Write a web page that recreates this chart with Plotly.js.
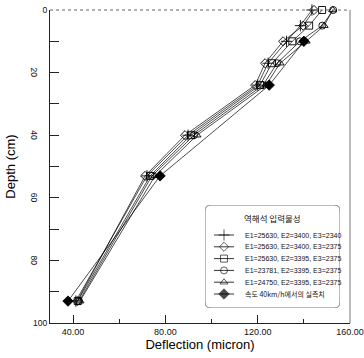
<!DOCTYPE html>
<html>
<head>
<meta charset="utf-8">
<script src="https://cdn.plot.ly/plotly-3.0.1.min.js"></script>
<style>html,body{margin:0;padding:0;background:#fff;}#chart{width:364px;height:358px;}</style>
</head>
<body>
<div id="chart"></div>
<script>
// ---- data ----
var depthCalc = [0, 5, 10, 17, 24, 40, 53, 93];
var defl1 = [143.5, 138.5, 132.5, 124.5, 120.0, 89.8, 72.0, 41.2];   // E1=25630, E2=3400, E3=2340
var defl2 = [144.4, 139.7, 131.0, 123.2, 118.9, 88.5, 71.2, 41.8];   // E1=25630, E2=3400, E3=2375
var defl3 = [147.9, 142.3, 135.0, 126.2, 121.0, 91.1, 73.4, 42.0];   // E1=25630, E2=3395, E3=2375
var defl4 = [152.7, 148.0, 138.3, 128.4, 122.3, 92.4, 74.2, 42.6];   // E1=23781, E2=3395, E3=2375
var defl5 = [152.5, 148.8, 141.0, 129.7, 123.6, 93.7, 75.5, 43.0];   // E1=24750, E2=3395, E3=2375
var depthMeas = [10, 24, 53, 93];
var deflMeas = [140.0, 125.0, 77.7, 37.8];

var seriesNames = [
  "E1=25630, E2=3400, E3=2340",
  "E1=25630, E2=3400, E3=2375",
  "E1=25630, E2=3395, E3=2375",
  "E1=23781, E2=3395, E3=2375",
  "E1=24750, E2=3395, E3=2375",
  "속도 40km/h에서의 실측치"
];
var legendTitle = "역해석 입력물성";
var xTickVals = [40, 80, 120, 160];
var xTickText = ["40.00", "80.00", "120.00", "160.00"];
var yTickVals = [0, 10, 20, 30, 40, 50, 60, 70, 80, 90, 100];
var yFlatLabels = {0: "0", 100: "100"};
var yRotLabels = [20, 40, 60, 80];

// ---- styles ----
var symbols = ["cross-thin-open", "diamond-open", "square-open", "circle-open", "triangle-up-open", "diamond"];
var sizes = [8, 7, 7, 7, 7, 8];
var FONT = "Liberation Sans, Arial, sans-serif";
var NARROW = "Liberation Sans Narrow, Arial Narrow, Liberation Sans, Arial, sans-serif";

var xs = [defl1, defl2, defl3, defl4, defl5, deflMeas];
var ys = [depthCalc, depthCalc, depthCalc, depthCalc, depthCalc, depthMeas];

var traces = [];
for (var i = 0; i < xs.length; i++) {
  traces.push({
    x: xs[i], y: ys[i], type: "scatter", mode: "lines+markers", name: seriesNames[i],
    showlegend: false, cliponaxis: false,
    line: {color: "#000", width: 0.7},
    marker: {symbol: symbols[i], size: sizes[i], color: "#000", line: {color: "#000", width: 0.9}}
  });
}

// hand-drawn legend on its own hidden axes (units ~ pixels)
var legTop = 205, legBottom = 308, legLeft = 205, legRight = 340;
var rowY0 = 235, rowStep = 11.8;
var annotations = [];
for (var k = 0; k < seriesNames.length; k++) {
  var yy = rowY0 + k * rowStep;
  traces.push({
    x: [214, 224, 234], y: [yy, yy, yy], xaxis: "x2", yaxis: "y2",
    type: "scatter", mode: "lines+markers", showlegend: false, hoverinfo: "skip",
    line: {color: "#000", width: 0.8},
    marker: {symbol: symbols[k], size: [0, sizes[k], 0], color: "#000", line: {color: "#000", width: 0.9}}
  });
  annotations.push({
    xref: "x2", yref: "y2", x: 243, y: yy, text: seriesNames[k], showarrow: false,
    xanchor: "left", yanchor: "middle",
    font: {family: k === 5 ? "Noto Sans CJK KR, " + FONT : FONT, size: 7, color: "#111"}
  });
}
annotations.push({
  xref: "x2", yref: "y2", x: 272, y: 218, text: legendTitle, showarrow: false,
  xanchor: "center", yanchor: "middle",
  font: {family: "Noto Sans CJK KR, sans-serif", size: 8.5, color: "#111"}
});

// rotated y tick labels
for (var r = 0; r < yRotLabels.length; r++) {
  annotations.push({
    xref: "paper", yref: "y", x: 0, y: yRotLabels[r], xshift: -16, text: String(yRotLabels[r]),
    showarrow: false, textangle: 90, xanchor: "center", yanchor: "middle",
    font: {family: NARROW, size: 8.5, color: "#111"}
  });
}

var rad = 6;
var boxPath = "M " + (legLeft + rad) + "," + legTop +
  " L " + (legRight - rad) + "," + legTop +
  " Q " + legRight + "," + legTop + " " + legRight + "," + (legTop + rad) +
  " L " + legRight + "," + (legBottom - rad) +
  " Q " + legRight + "," + legBottom + " " + (legRight - rad) + "," + legBottom +
  " L " + (legLeft + rad) + "," + legBottom +
  " Q " + legLeft + "," + legBottom + " " + legLeft + "," + (legBottom - rad) +
  " L " + legLeft + "," + (legTop + rad) +
  " Q " + legLeft + "," + legTop + " " + (legLeft + rad) + "," + legTop + " Z";

var W = 364, H = 358, mL = 50, mR = 14, mT = 10, mB = 35;
var pw = W - mL - mR, ph = H - mT - mB;

var layout = {
  width: W, height: H,
  margin: {l: mL, r: mR, t: mT, b: mB, pad: 0},
  paper_bgcolor: "#fff", plot_bgcolor: "#fff",
  showlegend: false,
  font: {family: FONT, color: "#000"},
  xaxis: {
    range: [30, 160], tickvals: xTickVals, ticktext: xTickText,
    ticks: "inside", ticklen: 8, tickwidth: 1, tickcolor: "#222",
    minor: {tickvals: [60, 100, 140], ticks: "inside", ticklen: 4, tickcolor: "#222", showgrid: false},
    showgrid: false, zeroline: false, showline: true, linecolor: "#222", linewidth: 1,
    tickfont: {family: NARROW, size: 9, color: "#111"},
    title: {text: "Deflection (micron)", font: {family: FONT, size: 13, color: "#000"}, standoff: 4},
    fixedrange: true
  },
  yaxis: {
    range: [100, 0], tickvals: yTickVals,
    ticktext: yTickVals.map(function (v) { return yFlatLabels[v] || ""; }),
    ticks: "inside", ticklen: 9, tickwidth: 1, tickcolor: "#222",
    showgrid: false, zeroline: false, showline: true, linecolor: "#222", linewidth: 1,
    tickfont: {family: NARROW, size: 8.5, color: "#111"},
    title: {text: "Depth (cm)", font: {family: FONT, size: 13, color: "#000"}, standoff: 14},
    fixedrange: true
  },
  xaxis2: {
    domain: [(legLeft - mL) / pw, (legRight - mL) / pw], range: [legLeft, legRight],
    anchor: "y2", visible: false, fixedrange: true
  },
  yaxis2: {
    domain: [(H - mB - legBottom) / ph, (H - mB - legTop) / ph], range: [legBottom, legTop],
    anchor: "x2", visible: false, fixedrange: true
  },
  shapes: [
    {type: "line", xref: "paper", yref: "paper", x0: 0, x1: 1, y0: 1, y1: 1,
     line: {color: "#666", width: 1, dash: "dot"}},
    {type: "line", xref: "paper", yref: "paper", x0: 1, x1: 1, y0: 0, y1: 1,
     line: {color: "#777", width: 1}},
    {type: "path", xref: "x2", yref: "y2", path: boxPath, layer: "below",
     fillcolor: "#fff", line: {color: "#777", width: 1}}
  ],
  annotations: annotations
};

Plotly.newPlot("chart", traces, layout, {displayModeBar: false, staticPlot: true});
</script>
</body>
</html>
